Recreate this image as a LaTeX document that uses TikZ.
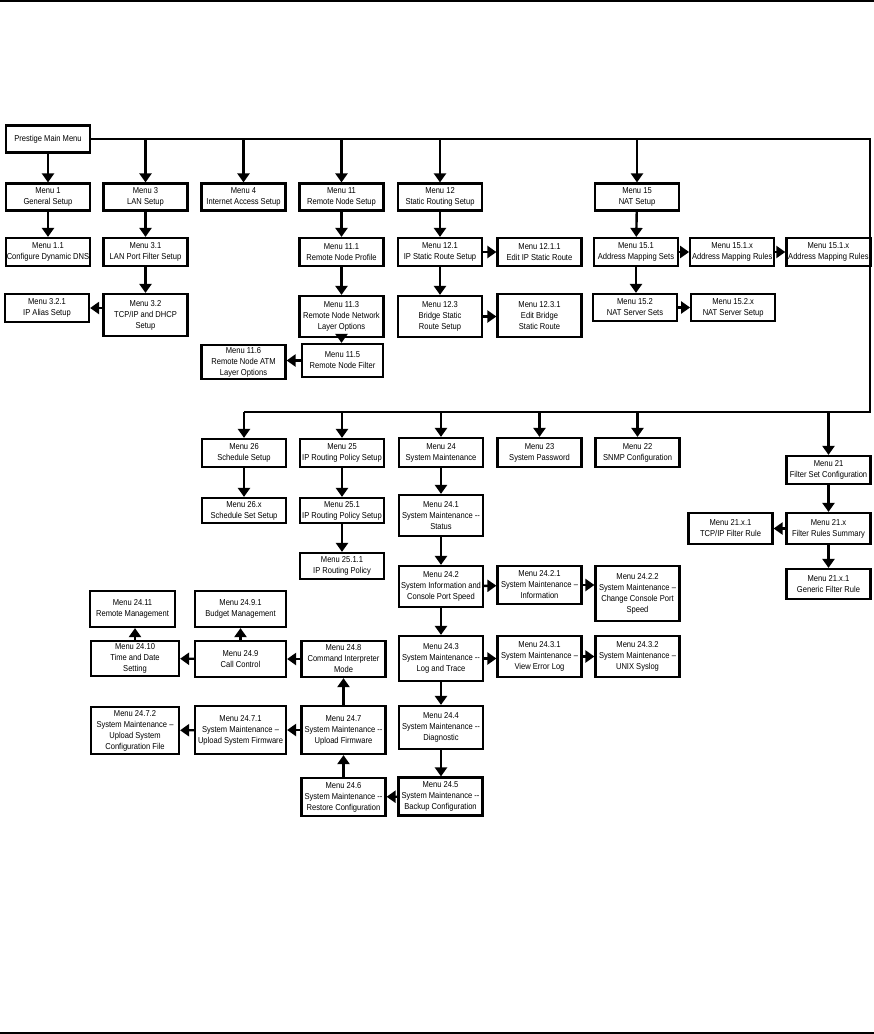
\documentclass[tikz,border=0pt]{standalone}
\usepackage{fontspec}
\setmainfont[FakeStretch=0.88]{Liberation Sans}
\usetikzlibrary{positioning, arrows.meta}

\begin{document}
\begin{tikzpicture}[
    x=1pt, y=-1pt,
    > = {Triangle[length=9pt, width=12pt]},
    menu/.style={draw, line width=2.2pt, align=center, inner sep=0.5pt,
        minimum width=84, minimum height=27, font=\fontsize{8.6}{11}\selectfont},
    link/.style={->, line width=2.4pt},
    bus/.style={line width=2.4pt},
    rule/.style={line width=1.2pt}
]
\useasboundingbox (0,0) rectangle (874,1034);

% page rules
\draw[rule] (0,1) -- (874,1);
\draw[rule] (0,1033) -- (874,1033);

% 1. UPPER TREE
\node[menu] (main) at (48,139) {Prestige Main Menu};

\node[menu] (m1)  at (48,197)    {Menu 1\\General Setup};
\node[menu] (m3)  at (145.5,197) {Menu 3\\LAN Setup};
\node[menu] (m4)  at (243.5,197) {Menu 4\\Internet Access Setup};
\node[menu] (m11) at (341.5,197) {Menu 11\\Remote Node Setup};
\node[menu] (m12) at (440,197)   {Menu 12\\Static Routing Setup};
\node[menu] (m15) at (637,197)   {Menu 15\\NAT Setup};

\node[menu, minimum height=28] (m1a)   at (48,252)    {Menu 1.1\\Configure Dynamic DNS};
\node[menu, minimum height=28] (m31)   at (145.5,252) {Menu 3.1\\LAN Port Filter Setup};
\node[menu, minimum height=28] (m111)  at (341.5,252) {Menu 11.1\\Remote Node Profile};
\node[menu, minimum height=28] (m121)  at (440,252)   {Menu 12.1\\IP Static Route Setup};
\node[menu, minimum height=28] (m1211) at (539.5,252) {Menu 12.1.1\\Edit IP Static Route};
\node[menu, minimum height=28] (m151)  at (636,252)   {Menu 15.1\\Address Mapping Sets};
\node[menu, minimum height=28, right=10pt of m151]  (m151x) {Menu 15.1.x\\Address Mapping Rules};
\node[menu, minimum height=28, right=10pt of m151x] (m151y) {Menu 15.1.x\\Address Mapping Rules};

\node[menu, minimum height=28] (m321)  at (47,308)    {Menu 3.2.1\\IP Alias Setup};
\node[menu, minimum height=42] (m32)   at (145.5,315) {Menu 3.2\\TCP/IP and DHCP\\Setup};
\node[menu, minimum height=41] (m113)  at (341.5,316.5) {Menu 11.3\\Remote Node Network\\Layer Options};
\node[menu, minimum height=41] (m123)  at (440,316.5) {Menu 12.3\\Bridge Static\\Route Setup};
\node[menu, minimum height=43] (m1231) at (539.5,315.5) {Menu 12.3.1\\Edit Bridge\\Static Route};
\node[menu] (m152) at (635,307.5) {Menu 15.2\\NAT Server Sets};
\node[menu, right=12pt of m152] (m152x) {Menu 15.2.x\\NAT Server Setup};

\node[menu, minimum width=81, minimum height=33] (m115) at (342.5,360.5) {Menu 11.5\\Remote Node Filter};
\node[menu, minimum height=34] (m116) at (243.5,362) {Menu 11.6\\Remote Node ATM\\Layer Options};

% bus from main menu
\draw[bus] (main.east) -| (870,412) -- (244,412);
\coordinate (br) at (870,412);

\draw[link] (main) -- (m1);
\foreach \m in {m3, m4, m11, m12, m15}
    \draw[link] (\m.north |- main.east) -- (\m.north);

\draw[link] (m1) -- (m1a);
\draw[link] (m3) -- (m31);
\draw[link] (m31) -- (m32);
\draw[link] (m32.west |- m321.east) -- (m321.east);
\draw[link] (m11) -- (m111);
\draw[link] (m111) -- (m113);
\draw[link] (m113.south) -- (m113.south |- m115.north);
\draw[link] (m115.west) -- (m115.west -| m116.east);
\draw[link] (m12) -- (m121);
\draw[link] (m121) -- (m1211);
\draw[link] (m121) -- (m123);
\draw[link] (m123.east) -- (m123.east -| m1231.west);
\draw[link] (m15) -- (m151);
\draw[link] (m151) -- (m151x);
\draw[link] (m151x) -- (m151y);
\draw[link] (m151.south) -- (m151.south |- m152.north);
\draw[link] (m152) -- (m152x);

% 2. LOWER TREE
\node[menu, minimum height=28] (m26) at (244,453)   {Menu 26\\Schedule Setup};
\node[menu, minimum height=28] (m25) at (342,453)   {Menu 25\\IP Routing Policy Setup};
\node[menu, minimum height=29] (m24) at (441,452.5) {Menu 24\\System Maintenance};
\node[menu, minimum height=29] (m23) at (539.5,452.5) {Menu 23\\System Password};
\node[menu, minimum height=29] (m22) at (637.5,452.5) {Menu 22\\SNMP Configuration};
\node[menu, minimum height=28] (m21) at (828.5,470) {Menu 21\\Filter Set Configuration};

\foreach \m in {m26, m25, m24, m23, m22, m21}
    \draw[link] (\m.north |- br) -- (\m.north);

\node[menu, minimum height=25] (m26x)  at (244,510.5) {Menu 26.x\\Schedule Set Setup};
\node[menu, minimum height=25] (m251)  at (342,510.5) {Menu 25.1\\IP Routing Policy Setup};
\node[menu, minimum height=26] (m2511) at (342,566)   {Menu 25.1.1\\IP Routing Policy};
\node[menu, minimum height=41] (m241)  at (441,515.5) {Menu 24.1\\System Maintenance -{}-\\Status};

\node[menu, minimum height=31] (m21x)  at (828.5,528.5) {Menu 21.x\\Filter Rules Summary};
\node[menu, minimum height=31] (m21xt) at (730.5,528.5) {Menu 21.x.1\\TCP/IP Filter Rule};
\node[menu, minimum height=30] (m21xg) at (828.5,584)   {Menu 21.x.1\\Generic Filter Rule};

\node[menu, minimum height=41] (m242)  at (441,586.5)   {Menu 24.2\\System Information and\\Console Port Speed};
\node[menu, minimum height=38] (m2421) at (539.5,585)   {Menu 24.2.1\\System Maintenance --\\Information};
\node[menu, minimum height=55] (m2422) at (637.5,593.5) {Menu 24.2.2\\System Maintenance --\\Change Console Port\\Speed};
\node[menu, minimum height=45] (m243)  at (441,658.5)   {Menu 24.3\\System Maintenance -{}-\\Log and Trace};
\node[menu, minimum height=41] (m2431) at (539.5,656.5) {Menu 24.3.1\\System Maintenance --\\View Error Log};
\node[menu, minimum height=41] (m2432) at (637.5,656.5) {Menu 24.3.2\\System Maintenance --\\UNIX Syslog};
\node[menu, minimum height=43] (m244)  at (441,727.5)   {Menu 24.4\\System Maintenance -{}-\\Diagnostic};
\node[menu, minimum height=38] (m245)  at (440.5,796.5) {Menu 24.5\\System Maintenance -{}-\\Backup Configuration};
\node[menu, minimum height=38] (m246)  at (343.5,797)   {Menu 24.6\\System Maintenance -{}-\\Restore Configuration};
\node[menu, minimum height=48] (m247)  at (343.5,730)   {Menu 24.7\\System Maintenance -{}-\\Upload Firmware};
\node[menu, minimum height=36] (m248)  at (343.5,659)   {Menu 24.8\\Command Interpreter\\Mode};
\node[menu, minimum width=91, minimum height=36] (m249)  at (240.5,659) {Menu 24.9\\Call Control};
\node[menu, minimum width=88, minimum height=35] (m2410) at (135,658.5) {Menu 24.10\\Time and Date\\Setting};
\node[menu, minimum width=85, minimum height=36] (m2411) at (132.5,609) {Menu 24.11\\Remote Management};
\node[menu, minimum width=91, minimum height=36] (m2491) at (240.5,609) {Menu 24.9.1\\Budget Management};
\node[menu, minimum width=91, minimum height=48] (m2471) at (240.5,730) {Menu 24.7.1\\System Maintenance --\\Upload System Firmware};
\node[menu, minimum width=88, minimum height=47] (m2472) at (135,730.5) {Menu 24.7.2\\System Maintenance --\\Upload System\\Configuration File};

\draw[link] (m26) -- (m26x);
\draw[link] (m25) -- (m251);
\draw[link] (m251) -- (m2511);
\draw[link] (m24) -- (m241);
\draw[link] (m241) -- (m242);
\draw[link] (m242) -- (m2421);
\draw[link] (m2421.east) -- (m2421.east -| m2422.west);
\draw[link] (m242) -- (m243);
\draw[link] (m243.east) -- (m243.east -| m2431.west);
\draw[link] (m2431) -- (m2432);
\draw[link] (m243) -- (m244);
\draw[link] (m244.south) -- (m244.south |- m245.north);
\draw[link] (m245) -- (m246);
\draw[link] (m246) -- (m247);
\draw[link] (m247) -- (m248);
\draw[link] (m248) -- (m249);
\draw[link] (m249) -- (m2410);
\draw[link] (m249.north) -- (m249.north |- m2491.south);
\draw[link] (m2410.north) -- (m2410.north |- m2411.south);
\draw[link] (m247.west) -- (m247.west -| m2471.east);
\draw[link] (m2471) -- (m2472);
\draw[link] (m21) -- (m21x);
\draw[link] (m21x) -- (m21xt);
\draw[link] (m21x) -- (m21xg);
\end{tikzpicture}
\end{document}
